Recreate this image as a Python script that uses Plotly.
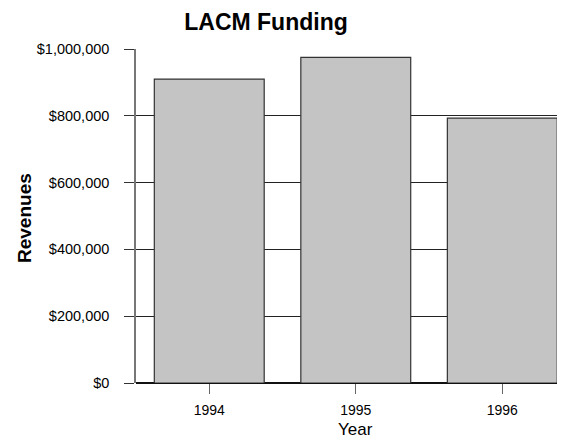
import plotly.graph_objects as go

years = ["1994", "1995", "1996"]
revenues = [910000, 975000, 793000]
y_ticks = [0, 200000, 400000, 600000, 800000, 1000000]
y_tick_labels = ["$0", "$200,000", "$400,000", "$600,000", "$800,000", "$1,000,000"]

font = "Liberation Sans, Arial, sans-serif"

fig = go.Figure()
fig.add_trace(go.Bar(
    x=[0, 1, 2], y=revenues, width=0.75,
    marker=dict(color="#c4c4c4", line=dict(color="#333333", width=1.2)),
))

# page body has an 8px default margin; figure is sized to fit the 565x439 window
fig.update_layout(
    width=557, height=431,
    margin=dict(l=128, r=0, t=41, b=56, autoexpand=False),
    paper_bgcolor="white", plot_bgcolor="white",
    showlegend=False,
    title=dict(text="<b>LACM Funding</b>", x=258 / 557, xanchor="center",
               y=1 - 14 / 431, yanchor="middle",
               font=dict(family=font, size=23, color="black")),
    font=dict(family=font, color="black"),
    annotations=[
        dict(text="<b>Revenues</b>", xref="paper", yref="paper", x=0, y=0.5,
             xshift=-112, yshift=-2, textangle=-90, showarrow=False,
             xanchor="center", yanchor="middle",
             font=dict(family=font, size=19, color="black")),
        dict(text="Year", xref="x", yref="paper", x=1, y=0, yshift=-46,
             showarrow=False, xanchor="center", yanchor="middle",
             font=dict(family=font, size=17, color="black")),
    ],
)
fig.update_xaxes(
    range=[-0.5, 2.428], tickvals=[0, 1, 2], ticktext=years,
    ticks="outside", ticklen=10, tickcolor="#666666", tickwidth=1,
    showline=False, showgrid=False, zeroline=False,
    ticklabelstandoff=4, automargin=False,
    tickfont=dict(size=14, family=font, color="black"),
)
fig.update_yaxes(
    range=[0, 1000000], tickvals=y_ticks, ticktext=y_tick_labels,
    ticks="outside", ticklen=10, tickcolor="#333333", tickwidth=1,
    showline=True, linecolor="#777777", linewidth=1.5,
    showgrid=True, gridcolor="#222222", gridwidth=1,
    zeroline=True, zerolinecolor="#111111", zerolinewidth=1.5,
    ticklabelstandoff=12, automargin=False,
    tickfont=dict(size=14.5, family=font, color="black"),
)
fig.write_html("out.html")
